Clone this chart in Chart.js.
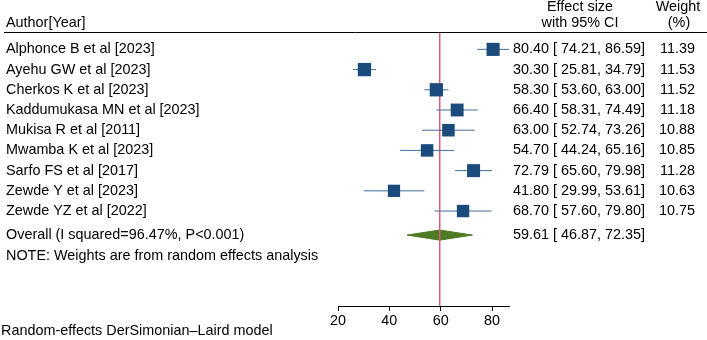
<!DOCTYPE html>
<html>
<head>
<meta charset="utf-8">
<script src="https://cdn.jsdelivr.net/npm/chart.js@4.4.1/dist/chart.umd.min.js"></script>
<style>
  html, body { margin: 0; padding: 0; background: #fff; }
  #wrap { width: 707px; height: 340px; }
</style>
</head>
<body>
<div id="wrap"><canvas id="forest" width="707" height="340"></canvas></div>
<script>
// study data
const studies = [
    'Alphonce B et al [2023]',
    'Ayehu GW et al [2023]',
    'Cherkos K et al [2023]',
    'Kaddumukasa MN et al [2023]',
    'Mukisa R et al [2011]',
    'Mwamba K et al [2023]',
    'Sarfo FS et al [2017]',
    'Zewde Y et al [2023]',
    'Zewde YZ et al [2022]'
];
const estimates = [80.40, 30.30, 58.30, 66.40, 63.00, 54.70, 72.79, 41.80, 68.70];
const lower = [74.21, 25.81, 53.60, 58.31, 52.74, 44.24, 65.60, 29.99, 57.60];
const upper = [86.59, 34.79, 63.00, 74.49, 73.26, 65.16, 79.98, 53.61, 79.80];
const weights = [11.39, 11.53, 11.52, 11.18, 10.88, 10.85, 11.28, 10.63, 10.75];

const overallEst = 59.61;
const overallLo = 46.87;
const overallHi = 72.35;
const overallLabel = 'Overall (I squared=96.47%, P<0.001)';
const noteLabel = 'NOTE: Weights are from random effects analysis';
const footLabel = 'Random-effects DerSimonian\u2013Laird model';

const xTicks = [20, 40, 60, 80];

// row positions (1 = first study)
const rows = studies.map((s, i) => i + 1);
const overallRow = 10.19;
const noteRow = 11.23;
const yTop = 0.14;
const yBottom = 13.70;

const FAMILY = '"Liberation Sans", Arial, sans-serif';
const FONT = '14.4px ' + FAMILY;
const fmt = v => v.toFixed(2);
const ciText = (e, l, u) => `${fmt(e)} [ ${fmt(l)}, ${fmt(u)}]`;

// =====================
// DATASETS
// =====================

const ciSets = rows.map((r, i) => ({
    type: 'scatter',
    data: [{ x: lower[i], y: r }, { x: upper[i], y: r }],
    showLine: true,
    borderColor: '#3f6d99',
    borderWidth: 1,
    pointRadius: 0,
    order: 1
}));

const boxSet = {
    type: 'scatter',
    data: rows.map((r, i) => ({ x: estimates[i], y: r })),
    pointStyle: 'rect',
    pointRadius: weights.map(w => w * 0.815),
    backgroundColor: '#1b4a7c',
    borderColor: '#1b4a7c',
    borderWidth: 0,
    order: 0
};

const refLine = {
    type: 'scatter',
    data: [{ x: overallEst, y: yTop }, { x: overallEst, y: yBottom }],
    showLine: true,
    borderColor: '#d45c7e',
    borderWidth: 1.5,
    pointRadius: 0,
    order: 2
};

const diamond = {
    type: 'scatter',
    data: [
        { x: overallLo, y: overallRow },
        { x: overallEst, y: overallRow - 0.25 },
        { x: overallHi, y: overallRow },
        { x: overallEst, y: overallRow + 0.25 },
        { x: overallLo, y: overallRow }
    ],
    showLine: true,
    fill: 'shape',
    backgroundColor: '#4d7a22',
    borderColor: '#4d7a22',
    borderWidth: 1,
    pointRadius: 0,
    order: 3
};

// =====================
// TEXT COLUMNS
// =====================

const tablePlugin = {
    id: 'forestTable',
    afterDraw(chart) {
        const ctx = chart.ctx;
        const y = chart.scales.y;
        ctx.save();
        ctx.fillStyle = '#000';
        ctx.font = FONT;
        ctx.textBaseline = 'middle';

        // header
        ctx.textAlign = 'left';
        ctx.fillText('Author[Year]', 6, 23);
        ctx.textAlign = 'center';
        ctx.fillText('Effect size', 580, 7);
        ctx.fillText('with 95% CI', 580, 23);
        ctx.fillText('Weight', 678, 7);
        ctx.fillText('(%)', 679, 23);

        ctx.strokeStyle = '#000';
        ctx.lineWidth = 1;
        ctx.beginPath();
        ctx.moveTo(4, 32.5);
        ctx.lineTo(707, 32.5);
        ctx.stroke();

        rows.forEach((r, i) => {
            const py = y.getPixelForValue(r);
            ctx.textAlign = 'left';
            ctx.fillText(studies[i], 6, py);
            ctx.fillText(ciText(estimates[i], lower[i], upper[i]), 513, py);
            ctx.textAlign = 'right';
            ctx.fillText(fmt(weights[i]), 695, py);
        });

        const oy = y.getPixelForValue(overallRow);
        ctx.textAlign = 'left';
        ctx.fillText(overallLabel, 6, oy);
        ctx.fillText(ciText(overallEst, overallLo, overallHi), 513, oy);
        ctx.fillText(noteLabel, 6, y.getPixelForValue(noteRow));
        ctx.fillText(footLabel, 1, 331);
        ctx.restore();
    }
};

new Chart(document.getElementById('forest'), {
    type: 'scatter',
    data: { datasets: [diamond, refLine, ...ciSets, boxSet] },
    options: {
        responsive: false,
        animation: false,
        layout: { padding: { left: 338, right: 198, top: 32, bottom: 0 } },
        plugins: {
            legend: { display: false },
            tooltip: { enabled: false }
        },
        scales: {
            x: {
                type: 'linear',
                position: 'bottom',
                min: 20,
                max: Math.max(...upper),
                afterBuildTicks: s => { s.ticks = xTicks.map(v => ({ value: v })); },
                afterFit: s => { s.height = 34; },
                grid: { display: true, drawOnChartArea: false, drawTicks: true, tickLength: 5, color: '#000' },
                border: { display: true, color: '#000', width: 1 },
                ticks: {
                    color: '#000',
                    padding: 1,
                    font: { family: FAMILY, size: 14.4 }
                }
            },
            y: {
                type: 'linear',
                display: false,
                reverse: true,
                min: yTop,
                max: yBottom
            }
        }
    },
    plugins: [tablePlugin]
});
</script>
</body>
</html>
